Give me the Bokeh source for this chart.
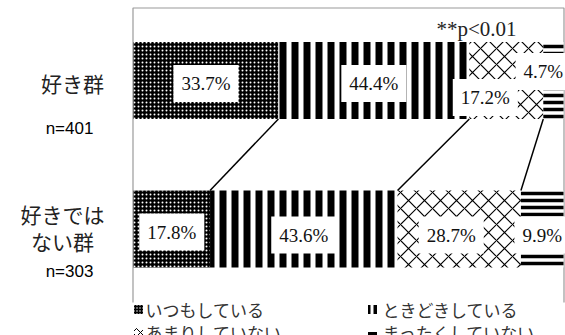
from bokeh.plotting import figure
from bokeh.models import Range1d, ColumnDataSource
from bokeh.core.properties import value
from bokeh.embed import file_html
from bokeh.resources import INLINE
import numpy as np

# ---------------- data ----------------
categories = ["好き群", "好きではない群"]
category_lines = [["好き群"], ["好きでは", "ない群"]]
sample_sizes = [401, 303]
series_names = ["いつもしている", "ときどきしている", "あまりしていない", "まったくしていない"]
always = [33.7, 17.8]
sometimes = [44.4, 43.6]
rarely = [17.2, 28.7]
never = [4.7, 9.9]
significance = "**p<0.01"

# ---------------- layout ----------------
W, H = 565, 335
PAGE_X0, PAGE_Y0 = 0, 0
BAR_LEFT_PX, PX_PER_PCT = 133, 4.30
Y0_PX, PX_PER_Y = 228.5, 148.5


def dx(px):
    return (px - BAR_LEFT_PX) / PX_PER_PCT


def dy(py):
    return (Y0_PX - py) / PX_PER_Y


y_pos = [1, 0]
BAR_H = 77 / PX_PER_Y

p = figure(width=W, height=H, output_backend="svg", toolbar_location=None,
           x_range=Range1d(dx(PAGE_X0), dx(PAGE_X0 + W)),
           y_range=Range1d(dy(PAGE_Y0 + H), dy(PAGE_Y0)),
           x_axis_type=None, y_axis_type=None, min_border=0)
p.outline_line_color = None
p.background_fill_color = "white"
p.border_fill_color = "white"

# plot area border (left, top, right)
p.multi_line(xs=[[dx(132.5), dx(132.5), dx(563.5), dx(563.5)]],
             ys=[[dy(302), dy(7.5), dy(7.5), dy(302)]],
             line_color="#9a9a9a", line_width=1.2)

series = [always, sometimes, rarely, never]
styles = [
    dict(fill_color="black", hatch_color="white", hatch_pattern="dot", hatch_scale=4, hatch_weight=1),
    dict(fill_color="white", hatch_color="black", hatch_pattern="vertical_line", hatch_scale=12, hatch_weight=7),
    dict(fill_color="white", hatch_color="black", hatch_pattern="diagonal_cross", hatch_scale=16, hatch_weight=1.2),
    dict(fill_color="white", hatch_color="black", hatch_pattern="horizontal_line", hatch_scale=7, hatch_weight=3.5),
]
label_dx = [[0, 0], [0, 0], [-21, -8], [-10, 0]]
label_dy = [[3, 3], [3, 6], [17, 6], [-9, 6]]

cum = np.zeros(len(categories))
bounds = []
label_src = dict(x=[], y=[], text=[], xo=[], yo=[])
for vals, st, ldx, ldy in zip(series, styles, label_dx, label_dy):
    left = cum.copy()
    right = cum + np.array(vals)
    src = ColumnDataSource(dict(y=y_pos, left=left, right=right))
    p.hbar(y="y", left="left", right="right", height=BAR_H, line_color=None, source=src, **st)
    label_src["x"] += list((left + right) / 2)
    label_src["y"] += y_pos
    label_src["text"] += [f"{v:.1f}%" for v in vals]
    label_src["xo"] += ldx
    label_src["yo"] += ldy
    cum = right
    bounds.append(right.copy())

# connector lines between the bars
b = np.array(bounds[:-1])
p.segment(x0=b[:, 0], y0=[y_pos[0] - BAR_H / 2] * len(b),
          x1=b[:, 1], y1=[y_pos[1] + BAR_H / 2] * len(b),
          line_color="black", line_width=1.5)

# percentage labels
p.text(x="x", y="y", text="text", x_offset="xo", y_offset="yo",
       source=ColumnDataSource(label_src),
       text_font=value("Liberation Serif"), text_font_size="19px", text_color="#111",
       text_align="center", text_baseline="middle",
       background_fill_color="white", padding=(8, 8))

# category labels
cat_font = value("Noto Sans CJK JP")
p.text(x=[dx(72)], y=[y_pos[0]], text=[category_lines[0][0]], text_font=cat_font,
       text_font_size="21px", text_color="#222", text_align="center", text_baseline="middle",
       y_offset=2)
p.text(x=[dx(62), dx(62)], y=[y_pos[1], y_pos[1]], text=category_lines[1], text_font=cat_font,
       text_font_size="21px", text_color="#222", text_align="center", text_baseline="middle",
       y_offset=[-15, 12])
p.text(x=[dx(69), dx(69)], y=y_pos, text=[f"n={n}" for n in sample_sizes],
       text_font=value("Liberation Sans"), text_font_size="17px", text_color="black",
       text_align="center", text_baseline="middle", y_offset=[48, 42])

# significance note
p.text(x=[dx(476)], y=[dy(28)], text=[significance], text_font=value("Liberation Serif"),
       text_font_size="21px", text_color="#222", text_align="center", text_baseline="middle")

# legend (manual)
leg_x = [dx(138), dx(372), dx(138), dx(372)]
leg_y = [dy(309), dy(309), dy(332), dy(332)]
leg_styles = [
    dict(fill_color="black", hatch_color="white", hatch_pattern="dot", hatch_scale=3, hatch_weight=1),
    dict(fill_color="white", hatch_color="black", hatch_pattern="vertical_line", hatch_scale=7, hatch_weight=4),
    dict(fill_color="white", hatch_color="black", hatch_pattern="diagonal_cross", hatch_scale=8, hatch_weight=1),
    dict(fill_color="white", hatch_color="black", hatch_pattern="horizontal_line", hatch_scale=7, hatch_weight=3),
]
for lx, ly, st in zip(leg_x, leg_y, leg_styles):
    p.rect(x=[lx], y=[ly], width=9, height=9, width_units="screen", height_units="screen",
           line_color=None, **st)
p.text(x=[dx(145), dx(382), dx(145), dx(382)], y=leg_y, text=series_names,
       text_font=cat_font, text_font_size="17px", text_color="#333",
       text_align="left", text_baseline="middle")

open("out.html", "w").write(file_html(p, INLINE))
